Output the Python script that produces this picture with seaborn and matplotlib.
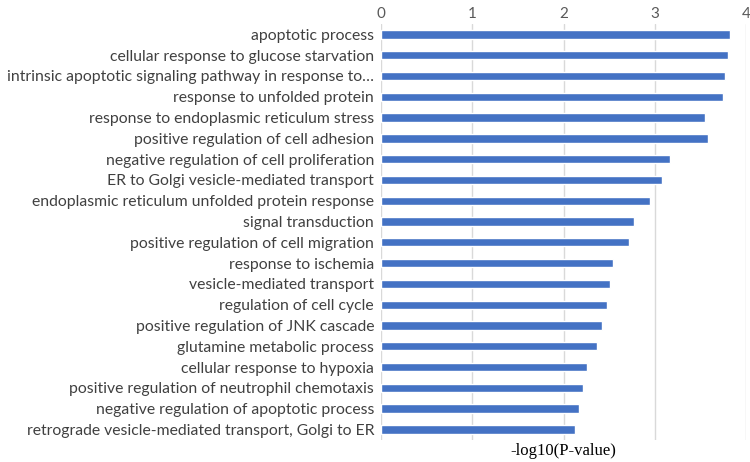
import matplotlib
matplotlib.use("Agg")
import matplotlib.pyplot as plt
import seaborn as sns
import pandas as pd

# GO terms, top to bottom as shown
terms = [
    "apoptotic process",
    "cellular response to glucose starvation",
    "intrinsic apoptotic signaling pathway in response to…",
    "response to unfolded protein",
    "response to endoplasmic reticulum stress",
    "positive regulation of cell adhesion",
    "negative regulation of cell proliferation",
    "ER to Golgi vesicle-mediated transport",
    "endoplasmic reticulum unfolded protein response",
    "signal transduction",
    "positive regulation of cell migration",
    "response to ischemia",
    "vesicle-mediated transport",
    "regulation of cell cycle",
    "positive regulation of JNK cascade",
    "glutamine metabolic process",
    "cellular response to hypoxia",
    "positive regulation of neutrophil chemotaxis",
    "negative regulation of apoptotic process",
    "retrograde vesicle-mediated transport, Golgi to ER",
]
neg_log_p = [3.82, 3.80, 3.77, 3.75, 3.55, 3.58, 3.17, 3.08, 2.95, 2.77,
             2.72, 2.54, 2.51, 2.47, 2.42, 2.37, 2.26, 2.21, 2.17, 2.13]
x_ticks = [0, 1, 2, 3, 4]

df = pd.DataFrame({"term": terms, "value": neg_log_p})

sns.set_theme(style="white")
plt.rcParams["font.family"] = ["Lato", "DejaVu Sans"]

fig = plt.figure(figsize=(7.5, 4.62), dpi=100)
ax = fig.add_axes([0.508, 0.048, 0.487, 0.900])

sns.barplot(data=df, x="value", y="term", orient="h", color="#4472C4",
            width=0.4, saturation=1, ax=ax)

ax.set_xlim(0, 4)
ax.set_ylim(len(terms) - 0.5, -0.5)
ax.set_xticks(x_ticks)
ax.xaxis.tick_top()
ax.grid(axis="x", color="#d9d9d9", linewidth=1)
ax.set_axisbelow(True)
for s in ax.spines.values():
    s.set_visible(False)

ax.tick_params(axis="x", length=0, pad=2, labelsize=11, labelcolor="#595959")
ax.tick_params(axis="y", length=0, pad=5, labelsize=11.3, labelcolor="#404040")
ax.set_ylabel("")
ax.set_xlabel("-log10(P-value)", family=["Liberation Serif", "DejaVu Serif"],
              fontsize=12, color="black", labelpad=2)

fig.savefig("out.png", dpi=100)
